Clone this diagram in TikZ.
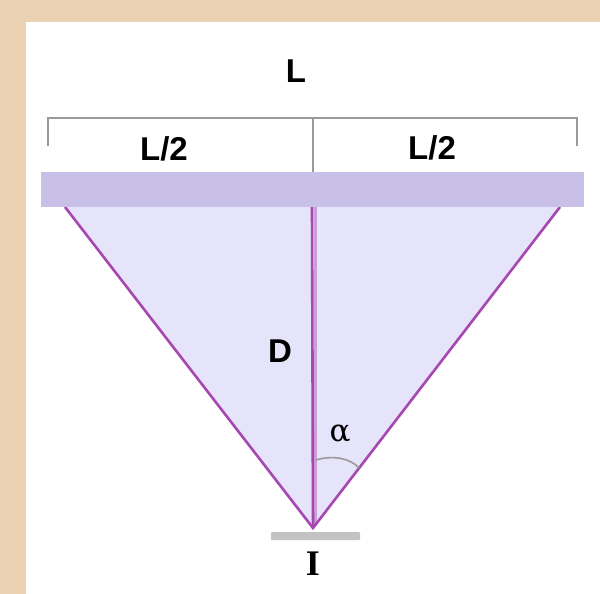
\documentclass[tikz,border=0pt]{standalone}
\usepackage{fontspec}
\setmainfont{Liberation Serif}
\setsansfont{Liberation Sans}
\newfontfamily\grkfont{DejaVu Serif}
\begin{document}
\begin{tikzpicture}[x=1pt,y=-1pt,
  lbl/.style={font=\sffamily\bfseries\fontsize{33}{38}\selectfont, inner sep=0pt, text=black},
  srf/.style={font=\rmfamily\bfseries\fontsize{36}{40}\selectfont, inner sep=0pt, text=black},
  grk/.style={font=\grkfont\fontsize{31}{36}\selectfont, inner sep=0pt, text=black},
  ray/.style={draw=rayc, line width=2.6pt},
  brk/.style={draw=brkc, line width=2pt}]
\definecolor{beige}{HTML}{EAD1B2}
\definecolor{barc}{HTML}{C8C0E6}
\definecolor{fillc}{HTML}{E6E4FB}
\definecolor{rayc}{HTML}{A548B0}
\definecolor{rayl}{HTML}{CC9ED6}
\definecolor{brkc}{HTML}{9A9A9A}
\definecolor{grayb}{HTML}{C2C2C2}
\useasboundingbox (0,0) rectangle (600,594);
\fill[beige] (0,0) rectangle (600,594);
\fill[white] (26,22) rectangle (600,594);
% coordinates
\coordinate (apex) at (313,528);
\coordinate (tl) at (65,207);
\coordinate (tr) at (560,207);
\coordinate (tm) at (312,207);
\coordinate (tml) at (315,207);
\coordinate (apexl) at (315,524);
\coordinate (arcs) at (316,460);
\coordinate (arce) at (359,468);
% triangle
\fill[fillc] (tl) -- (tr) -- (apex) -- cycle;
\draw[rayl, line width=3pt] (tml) -- (apexl);
\draw[ray] (tl) -- (apex) -- (tr);
\draw[ray, line width=2.6pt] (tm) -- (apex);
% bar
\fill[barc] (41,172) rectangle (584,207);
% bracket
\coordinate (bl) at (48,146);
\coordinate (br) at (577,146);
\coordinate (bc) at (313,172);
\draw[brk] (bl) -- (48,118) -- (577,118) -- (br);
\draw[brk] (313,118) -- (bc);
% labels
\node[lbl] (L) at (296,71) {L};
\node[lbl] (L2a) at (164,149) {L/2};
\node[lbl] (L2b) at (432,148) {L/2};
\node[lbl] (D) at (280,351) {D};
% angle arc
\draw[brkc, line width=1.6pt] (arcs) .. controls (333,455) and (350,458) .. (arce);
\node[grk] (alpha) at (340,434) {α};
% image plate
\fill[grayb, rounded corners=1pt] (271,532) rectangle (360,540);
\node[srf] (I) at (313,564) {I};
\end{tikzpicture}
\end{document}
